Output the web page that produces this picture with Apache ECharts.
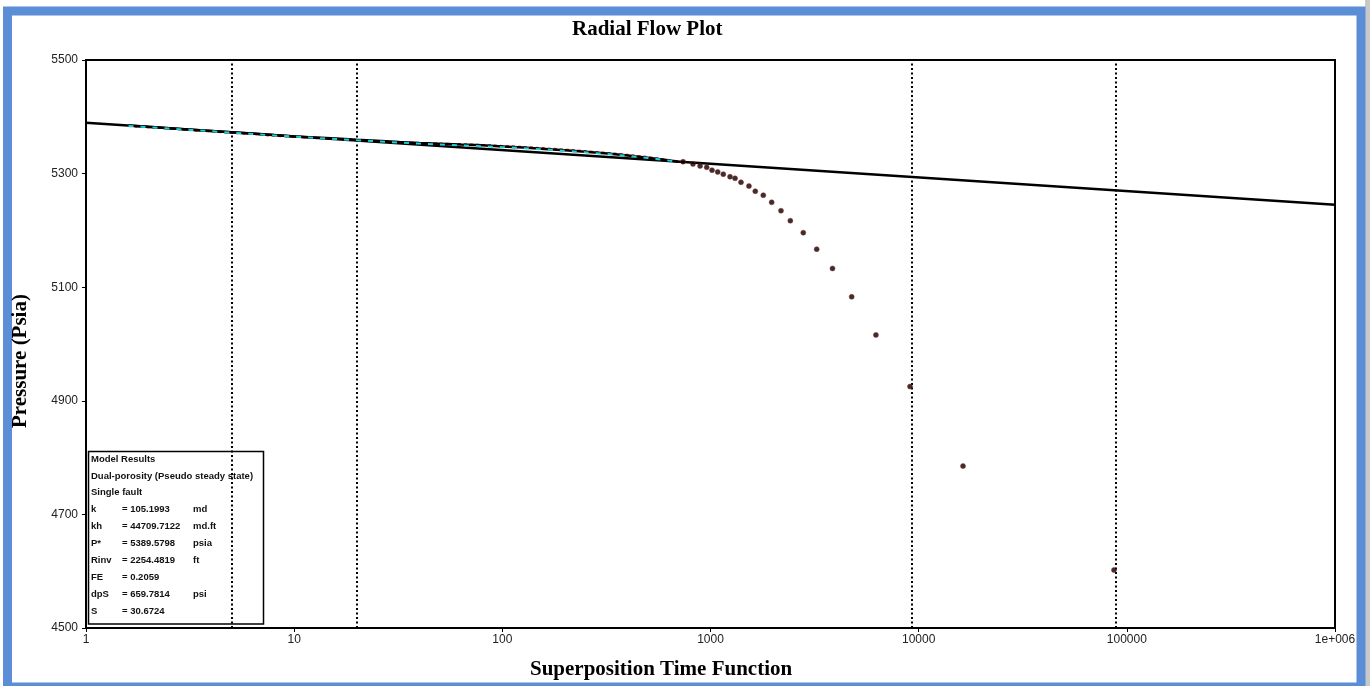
<!DOCTYPE html>
<html lang="en">

<head>
    <meta charset="utf-8">
    <title>Radial Flow Plot</title>
    <script src="https://cdn.jsdelivr.net/npm/echarts@6.0.0/dist/echarts.min.js"></script>
    <style>
        html,
        body,
        #chart {
            width: 100%;
            height: 100%;
            margin: 0;
            padding: 0;
            overflow: hidden;
            background-color: #ffffff;
        }
    </style>
</head>

<body>
    <div id="chart"></div>
    <script>
        // straight line fitted through the radial flow part
        var lineT = [1, 1000000];
        var lineP = [5389.6, 5245.0];

        // early data band (time, pressure)
        var bandT = [1.6, 2, 2.5, 3.2, 4, 5, 6.3, 8, 10, 12.6, 16, 20, 25, 32, 40, 50, 63, 80, 100, 126, 160, 200, 250, 320, 400, 500, 600, 700];
        var modelP = [5384.7, 5382.3, 5380.0, 5377.4, 5375.1, 5372.8, 5370.4, 5367.8, 5365.5, 5363.6, 5361.6, 5359.7, 5357.9, 5355.8, 5354.0, 5352.7, 5351.2, 5349.7, 5347.9, 5346.0, 5343.5, 5341.1, 5338.3, 5335.2, 5331.9, 5328.1, 5324.6, 5321.0];
        var redP = [5383.8, 5381.2, 5379.4, 5376.2, 5374.3, 5371.6, 5369.8, 5366.5, 5364.9, 5362.5, 5361.0, 5358.6, 5357.4, 5354.9, 5353.8, 5352.9, 5351.9, 5350.4, 5348.8, 5347.0, 5344.6, 5342.3, 5339.6, 5336.4, 5333.0, 5329.2, 5325.0, 5321.5];
        var cyanP = [5384.0, 5381.6, 5379.2, 5376.8, 5374.6, 5372.1, 5369.6, 5367.2, 5365.0, 5362.8, 5360.8, 5358.8, 5356.9, 5354.6, 5352.8, 5351.2, 5349.8, 5348.2, 5346.6, 5344.8, 5342.6, 5340.2, 5337.4, 5334.4, 5331.2, 5327.6, 5324.0, 5320.6];

        // late time points bending away from the line
        var lateT = [738, 824, 891, 959, 1017, 1083, 1152, 1241, 1312, 1401, 1530, 1641, 1793, 1967, 2181, 2418, 2790, 3237, 3855, 4766, 6233, 9085, 16330, 86750];
        var lateP = [5321.0, 5317.0, 5313.4, 5311.0, 5306.0, 5303.0, 5299.0, 5294.5, 5291.7, 5284.7, 5278.0, 5269.0, 5262.0, 5249.5, 5234.7, 5217.0, 5196.0, 5167.0, 5133.0, 5083.0, 5016.0, 4925.0, 4785.0, 4602.0];

        // vertical dotted markers
        var markT = [5, 20, 9300, 88800];

        // model results box
        var resultTitle = 'Model Results';
        var resultNotes = ['Dual-porosity (Pseudo steady state)', 'Single fault'];
        var resultNames = ['k', 'kh', 'P*', 'Rinv', 'FE', 'dpS', 'S'];
        var resultValues = ['105.1993', '44709.7122', '5389.5798', '2254.4819', '0.2059', '659.7814', '30.6724'];
        var resultUnits = ['md', 'md.ft', 'psia', 'ft', '', 'psi', ''];

        function pairs(xs, ys) {
            return xs.map(function (x, i) { return [x, ys[i]]; });
        }

        var chart = echarts.init(document.getElementById('chart'));

        var boxTexts = [];
        var rowY = 460;
        var rowStep = 16.9;
        var boxFont = 'bold 9.5px "Liberation Sans", Arial, sans-serif';
        boxTexts.push({
            type: 'text', left: 91, top: rowY - 6,
            style: { text: resultTitle, font: boxFont, fill: '#111' }
        });
        resultNotes.forEach(function (t, i) {
            boxTexts.push({
                type: 'text', left: 91, top: rowY + rowStep * (i + 1) - 6,
                style: { text: t, font: boxFont, fill: '#111' }
            });
        });
        resultNames.forEach(function (n, i) {
            var y = rowY + rowStep * (i + 3) - 6;
            boxTexts.push({ type: 'text', left: 91, top: y, style: { text: n, font: boxFont, fill: '#111' } });
            boxTexts.push({ type: 'text', left: 122, top: y, style: { text: '= ' + resultValues[i], font: boxFont, fill: '#111' } });
            if (resultUnits[i]) {
                boxTexts.push({ type: 'text', left: 193, top: y, style: { text: resultUnits[i], font: boxFont, fill: '#111' } });
            }
        });

        var serifBold = 'bold 21px "Liberation Serif", "Times New Roman", serif';

        var option = {
            backgroundColor: '#ffffff',
            animation: false,
            grid: {
                left: 86,
                right: 35,
                top: 60,
                bottom: 58,
                show: true,
                borderColor: '#000',
                borderWidth: 2
            },
            xAxis: {
                type: 'log',
                logBase: 10,
                min: 1,
                max: 1000000,
                axisLine: { show: true, onZero: false, lineStyle: { color: '#000', width: 2 } },
                axisTick: { show: true, length: 4, lineStyle: { color: '#000' } },
                minorTick: { show: false },
                splitLine: { show: false },
                axisLabel: {
                    color: '#222',
                    fontSize: 12,
                    fontFamily: '"Liberation Sans", Arial, sans-serif',
                    margin: 6,
                    showMinLabel: true,
                    showMaxLabel: true,
                    hideOverlap: false,
                    formatter: function (v) {
                        if (v >= 999999) return '1e+006';
                        return String(Math.round(v));
                    }
                }
            },
            yAxis: {
                type: 'value',
                min: 4500,
                max: 5500,
                interval: 200,
                axisLine: { show: true, onZero: false, lineStyle: { color: '#000', width: 2 } },
                axisTick: { show: true, length: 4, lineStyle: { color: '#000' } },
                splitLine: { show: false },
                axisLabel: {
                    color: '#222',
                    fontSize: 12,
                    fontFamily: '"Liberation Sans", Arial, sans-serif',
                    margin: 8,
                    formatter: function (v) { return String(v); }
                }
            },
            series: [
                {
                    name: 'Radial flow line',
                    type: 'line',
                    data: pairs(lineT, lineP),
                    symbol: 'none',
                    lineStyle: { color: '#000', width: 2.5 },
                    z: 3,
                    markLine: {
                        silent: true,
                        symbol: 'none',
                        label: { show: false },
                        lineStyle: { color: '#000', width: 2, type: [2, 2.5] },
                        data: markT.map(function (t) { return { xAxis: t }; })
                    }
                },
                {
                    name: 'Data',
                    type: 'line',
                    data: pairs(bandT, redP),
                    symbol: 'none',
                    lineStyle: { color: '#d8231d', width: 2, type: [3, 3] },
                    z: 2
                },
                {
                    name: 'Model',
                    type: 'line',
                    data: pairs(bandT, modelP),
                    symbol: 'none',
                    lineStyle: { color: '#000', width: 2.5 },
                    z: 4
                },
                {
                    name: 'Data 2',
                    type: 'line',
                    data: pairs(bandT, cyanP),
                    symbol: 'none',
                    lineStyle: { color: '#1fd0d8', width: 2, type: [5, 7] },
                    z: 5
                },
                {
                    name: 'Late data',
                    type: 'scatter',
                    data: pairs(lateT, lateP),
                    symbol: 'circle',
                    symbolSize: 5,
                    itemStyle: { color: '#000', borderColor: '#a01818', borderWidth: 0.6 },
                    z: 6
                }
            ],
            graphic: [
                {
                    type: 'rect',
                    shape: { x: 1365, y: 0, width: 5, height: 686 },
                    style: { fill: '#c8c8c8' },
                    z: 90
                },
                {
                    type: 'rect',
                    shape: { x: 7.5, y: 11, width: 1353.5, height: 676 },
                    style: { fill: 'none', stroke: '#5b8ed6', lineWidth: 9 },
                    z: 100
                },
                {
                    type: 'text',
                    left: 572,
                    top: 19,
                    style: { text: 'Radial Flow Plot', font: serifBold, fill: '#000' },
                    z: 100
                },
                {
                    type: 'text',
                    left: 530,
                    top: 659,
                    style: { text: 'Superposition Time Function', font: serifBold, fill: '#000' },
                    z: 100
                },
                {
                    type: 'text',
                    x: 10,
                    y: 428,
                    rotation: Math.PI / 2,
                    style: { text: 'Pressure (Psia)', font: serifBold, fill: '#000' },
                    z: 100
                },
                {
                    type: 'group',
                    z: 50,
                    children: [
                        {
                            type: 'rect',
                            shape: { x: 88.5, y: 451.5, width: 175, height: 172.5 },
                            style: { fill: '#fff', stroke: '#000', lineWidth: 1.5 }
                        }
                    ].concat(boxTexts)
                }
            ]
        };

        chart.setOption(option);
    </script>
</body>

</html>
